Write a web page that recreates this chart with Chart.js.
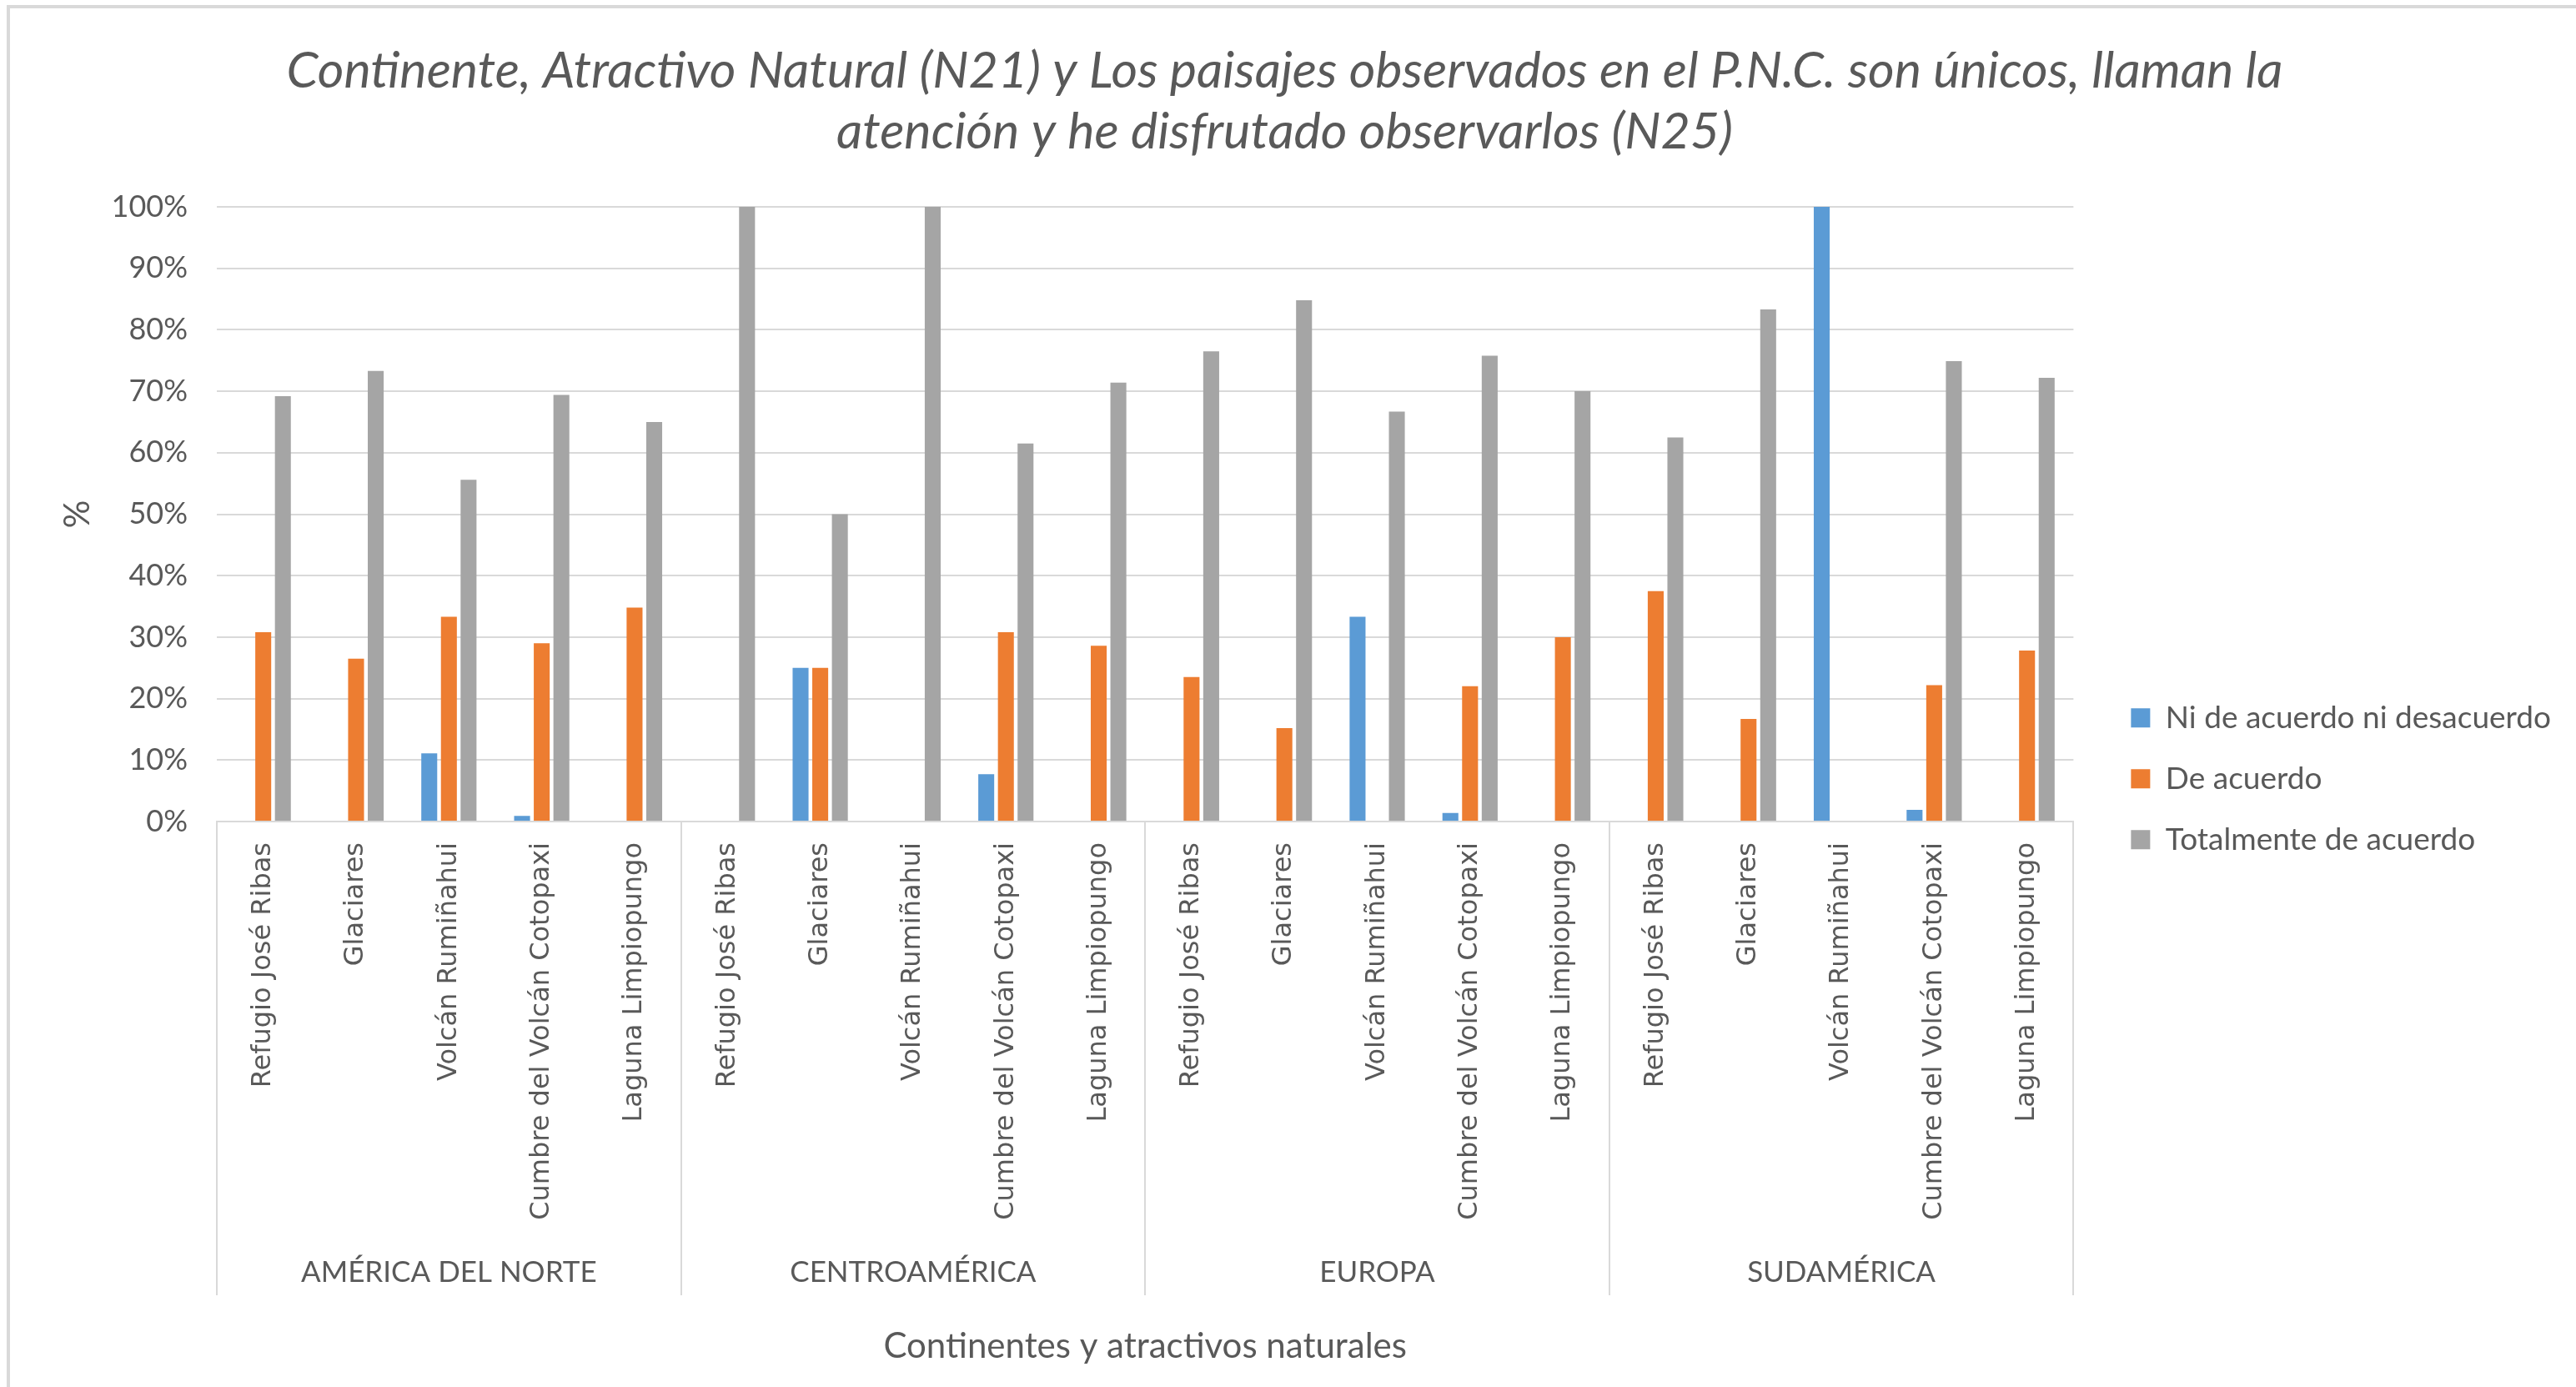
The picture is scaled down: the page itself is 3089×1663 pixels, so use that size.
<!DOCTYPE html>
<html>
<head>
<meta charset="utf-8">
<script src="https://cdn.jsdelivr.net/npm/chart.js@4.4.0/dist/chart.umd.min.js"></script>
<style>
html, body { margin: 0; padding: 0; background: #fff; overflow: hidden; }
#marco { position: absolute; left: 8px; top: 6px; width: 3081px; height: 1657px;
         border-top: 4px solid #d9d9d9; border-left: 4px solid #d9d9d9; }
#caja { position: absolute; left: 12px; top: 10px; width: 3077px; height: 1653px; }
</style>
</head>
<body>
<div id="marco"></div>
<div id="caja"><canvas id="grafico" width="3077" height="1653"></canvas></div>
<script>
const continentes = ['AMÉRICA DEL NORTE', 'CENTROAMÉRICA', 'EUROPA', 'SUDAMÉRICA'];
const atractivos = ['Refugio José Ribas', 'Glaciares', 'Volcán Rumiñahui', 'Cumbre del Volcán Cotopaxi', 'Laguna Limpiopungo'];

// valores en %, 5 atractivos por continente
const niAcuerdo  = [0, 0, 11.1, 0.9, 0,    0, 25, 0, 7.7, 0,       0, 0, 33.3, 1.4, 0,       0, 0, 100, 1.9, 0];
const deAcuerdo  = [30.8, 26.5, 33.3, 29.0, 34.8,  0, 25, 0, 30.8, 28.6,  23.5, 15.2, 0, 22.0, 30.0,  37.5, 16.7, 0, 22.2, 27.8];
const totalmente = [69.2, 73.3, 55.6, 69.4, 65.0,  100, 50, 100, 61.5, 71.4,  76.5, 84.8, 66.7, 75.8, 70.0,  62.5, 83.3, 0, 74.9, 72.2];

const titulo = ['Continente, Atractivo Natural (N21) y Los paisajes observados en el P.N.C. son únicos, llaman la',
                'atención y he disfrutado observarlos (N25)'];

const gris = '#595959';
const lineaGris = '#d9d9d9';

const etiquetas = continentes.flatMap(() => atractivos);

// solo se dibujan las lineas que separan continentes
const separador = ctx => (ctx.index === undefined || ctx.index % atractivos.length === 0) ? lineaGris : 'rgba(0,0,0,0)';

const serie = (label, data, color) => ({
    label: label,
    data: data,
    backgroundColor: color,
    borderWidth: 0,
    categoryPercentage: 0.635,
    barPercentage: 0.81,
});

new Chart(document.getElementById('grafico'), {
    type: 'bar',
    data: {
        labels: etiquetas,
        datasets: [
            serie('Ni de acuerdo ni desacuerdo', niAcuerdo, '#5b9bd5'),
            serie('De acuerdo', deAcuerdo, '#ed7d31'),
            serie('Totalmente de acuerdo', totalmente, '#a5a5a5'),
        ],
    },
    options: {
        responsive: false,
        animation: false,
        devicePixelRatio: 1,
        layout: { padding: { left: 0, right: 20, top: 0, bottom: 0 } },
        plugins: {
            tooltip: { enabled: false },
            title: {
                display: true,
                text: titulo,
                color: gris,
                font: { family: 'Lato', style: 'italic', weight: 'normal', size: 61, lineHeight: 1.197 },
                padding: { top: 38.5, bottom: 53.5 },
            },
            legend: {
                position: 'right',
                maxWidth: 800,
                title: { display: true, text: ' ', font: { size: 12 }, padding: { top: 180, bottom: 0 } },
                labels: {
                    color: gris,
                    boxWidth: 23,
                    boxHeight: 23,
                    padding: 36,
                    font: { family: 'Lato', size: 37 },
                },
            },
        },
        scales: {
            y: {
                min: 0,
                max: 100,
                weight: 0,
                afterFit: s => { s.width = 248; },
                ticks: {
                    stepSize: 10,
                    padding: 35,
                    color: gris,
                    font: { family: 'Lato', size: 36 },
                    callback: v => v + '%',
                },
                grid: { color: lineaGris, lineWidth: 2, drawTicks: false },
                border: { display: false },
                title: {
                    display: true,
                    text: '%',
                    color: gris,
                    font: { family: 'Lato', size: 42 },
                    padding: { top: 56, bottom: 0 },
                },
            },
            // espacio entre el area del grafico y la leyenda
            yEspacio: {
                type: 'linear',
                position: 'right',
                weight: 0,
                afterFit: s => { s.width = 33; },
                ticks: { display: false },
                grid: { display: false, drawTicks: false },
                border: { display: false },
            },
            x: {
                weight: 0,
                afterFit: s => { s.height = 484; },
                grid: {
                    offset: true,
                    drawOnChartArea: false,
                    tickLength: 568,
                    lineWidth: 2,
                    color: separador,
                    tickColor: separador,
                },
                border: { display: true, color: lineaGris, width: 2 },
                ticks: {
                    autoSkip: false,
                    minRotation: 90,
                    maxRotation: 90,
                    padding: -543,
                    color: gris,
                    font: { family: 'DejaVu Sans', size: 32 },
                },
            },
            xContinente: {
                type: 'category',
                labels: continentes,
                position: 'bottom',
                offset: true,
                weight: 1,
                afterFit: s => { s.height = 194; },
                grid: { display: false, drawTicks: false },
                border: { display: false },
                ticks: {
                    padding: 36,
                    color: gris,
                    font: { family: 'Lato', size: 35 },
                },
                title: {
                    display: true,
                    text: 'Continentes y atractivos naturales',
                    color: gris,
                    font: { family: 'Lato', size: 42 },
                    padding: { top: 0, bottom: 23 },
                },
            },
        },
    },
});
</script>
</body>
</html>
